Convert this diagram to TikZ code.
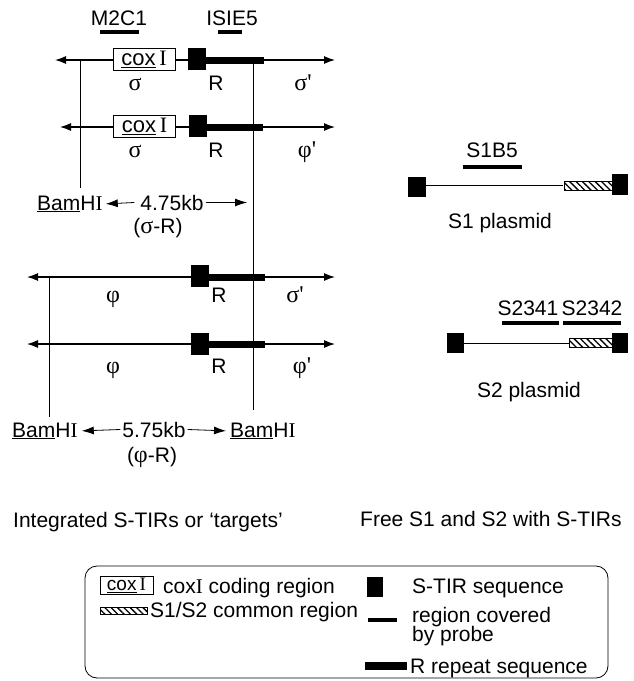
\documentclass[tikz,border=0pt]{standalone}
\usepackage{fontspec}
\setmainfont{Liberation Sans}
\newfontfamily\romI{Liberation Serif}
\usetikzlibrary{arrows.meta,patterns.meta}
\newcommand\coxI{\underline{cox}\,{\romI I}}
\newcommand\bamHI{\underline{Bam}H{\romI I}}
\newcommand\gk[1]{{\romI\fontsize{24}{26}\selectfont #1}}
\begin{document}
\begin{tikzpicture}[x=1pt,y=-1pt,
  lbl/.style={font=\fontsize{21}{24}\selectfont, inner sep=0pt, anchor=base},
  lblw/.style={lbl, anchor=base west},
  dna/.style={line width=1.2pt, {Latex[length=11pt,width=8pt]}-{Latex[length=11pt,width=8pt]}},
  tirsq/.style={fill=black, draw=none, inner sep=0pt, minimum width=18pt, minimum height=22pt},
  rbar/.style={line width=7pt},
  probe/.style={line width=4.5pt},
  vline/.style={line width=0.8pt},
  dim/.style={line width=0.8pt, -{Latex[length=12pt,width=8pt]}},
  coxbox/.style={draw, line width=0.8pt, fill=white, inner sep=0pt,
    minimum width=62pt, minimum height=22pt, font=\fontsize{22}{24}\selectfont},
  hatchbox/.style={draw, line width=0.8pt, fill=white, inner sep=0pt,
    pattern={Lines[angle=-45,distance=4.5pt,line width=1.3pt]}},
  plasmid/.style={line width=0.8pt}
]
\useasboundingbox (0,0) rectangle (633,681);

% ---------- probes above ----------
\node[lbl] (m2c1) at (119,25) {M2C1};
\node[lbl] (isie5) at (232,25) {ISIE5};
\draw[probe] (100,32) -- (139,32);
\draw[probe] (218,32) -- (242,32);

% ---------- row 1 ----------
\coordinate (r1l) at (55,60);
\coordinate (r1r) at (335,60);
\draw[dna] (r1l) -- (r1r);
\draw[rbar] (206,60) -- (264,60);
\node[coxbox] (cox1) at (144,59) {\coxI};
\node[tirsq] (t1) at (197,59) {};
\node[lbl] at (135,90) {\gk{σ}};
\node[lbl] at (216,90) {R};
\node[lbl] at (303,90) {\gk{σ'}};

% ---------- row 2 ----------
\coordinate (r2l) at (60,127);
\coordinate (r2r) at (335,127);
\draw[dna] (r2l) -- (r2r);
\draw[rbar] (207,127) -- (263,127);
\node[coxbox] (cox2) at (144.5,126) {\coxI};
\node[tirsq] (t2) at (198,126) {};
\node[lbl] at (135,157) {\gk{σ}};
\node[lbl] at (216,157) {R};
\node[lbl] at (307,157) {\gk{φ'}};

% ---------- row 3 ----------
\coordinate (r3l) at (27,277);
\coordinate (r3r) at (335,277);
\draw[dna] (r3l) -- (r3r);
\draw[rbar] (208,277) -- (265,277);
\node[tirsq] (t3) at (200,276) {};
\node[lbl] at (113,302) {\gk{φ}};
\node[lbl] at (219,302) {R};
\node[lbl] at (295,302) {\gk{σ'}};

% ---------- row 4 ----------
\coordinate (r4l) at (27,344);
\coordinate (r4r) at (335,344);
\draw[dna] (r4l) -- (r4r);
\draw[rbar] (208,344) -- (265,344);
\node[tirsq] (t4) at (200,344) {};
\node[lbl] at (113,373) {\gk{φ}};
\node[lbl] at (219,373) {R};
\node[lbl] at (302,373) {\gk{φ'}};

% ---------- BamHI sites and distances ----------
\coordinate (vA) at (80,60);
\coordinate (vR) at (253,60);
\coordinate (vB) at (49,277);
\node[lblw] (bamA) at (37,210) {\bamHI};
\node[lbl] (kbA) at (172,210) {4.75kb};
\node[lbl] (srA) at (158,233) {(\gk{σ}-R)};
\draw[vline] (vA) -- (vA |- 0,188);
\draw[vline] (vR) -- (vR |- 0,410);
\draw[vline] (vB) -- (vB |- 0,417);
\draw[dim] ([xshift=-6pt]kbA.west) -- ([xshift=3pt]bamA.east);
\draw[dim] ([xshift=2pt]kbA.east) -- ([xshift=-6pt]kbA.east -| vR);

\node[lblw] (bamB) at (12,437) {\bamHI};
\node[lbl] (kbB) at (154,437) {5.75kb};
\node[lblw] (bamC) at (230,437) {\bamHI};
\node[lbl] (srB) at (152,462) {(\gk{φ}-R)};
\draw[dim] ([xshift=-2pt]kbB.west) -- ([xshift=4pt]bamB.east);
\draw[dim] ([xshift=2pt]kbB.east) -- ([xshift=-4pt]bamC.west);

% ---------- S1 plasmid ----------
\node[lbl] (s1b5) at (492,157) {S1B5};
\draw[probe] (463,167) -- (522,167);
\node[tirsq, minimum height=20pt] (s1L) at (417,187) {};
\node[hatchbox, minimum width=48pt, minimum height=9pt] (s1H) at (588,185.5) {};
\node[tirsq, minimum width=16pt, minimum height=21pt] (s1R) at (620,184.5) {};
\draw[plasmid] (s1L.east |- 0,185) -- (s1H.west |- 0,185);
\node[lbl] at (500,228) {S1 plasmid};

% ---------- S2 plasmid ----------
\node[lbl] (s2341) at (528,315) {S2341};
\node[lbl] (s2342) at (592,315) {S2342};
\draw[probe] (502,323) -- (559,323);
\draw[probe] (563,323) -- (621,323);
\node[tirsq, minimum width=17pt, minimum height=20pt] (s2L) at (455.5,343) {};
\node[hatchbox, minimum width=44pt, minimum height=9pt] (s2H) at (591,342.5) {};
\node[tirsq, minimum width=16pt, minimum height=20pt] (s2R) at (620,343) {};
\draw[plasmid] (s2L.east |- 0,343) -- (s2H.west |- 0,343);
\node[lbl] at (529,397) {S2 plasmid};

% ---------- captions ----------
\node[lblw] (capL) at (13,527) {Integrated S-TIRs or `targets'};
\node[lblw] (capR) at (360,526) {Free S1 and S2 with S-TIRs};

% ---------- legend ----------
\node[draw, line width=0.8pt, rounded corners=12pt, inner sep=0pt,
  minimum width=523pt, minimum height=112pt] (legend) at (346.5,622) {};
\node[coxbox, minimum width=53pt, minimum height=18pt,
  font=\fontsize{19}{22}\selectfont] (lcox) at (126.5,585) {\coxI};
\node[lblw] at (163,593) {cox{\romI I} coding region};
\node[tirsq, minimum width=16pt, minimum height=20pt] (ltir) at (375,587) {};
\node[lblw] at (412,593) {S-TIR sequence};
\node[hatchbox, minimum width=47pt, minimum height=7pt] (lhat) at (123.5,610.5) {};
\node[lblw] at (150,617) {S1/S2 common region};
\draw[probe] (368,620) -- (397,620);
\node[lblw] at (412,622) {region covered};
\node[lblw] at (412,641) {by probe};
\draw[line width=8pt] (365,666) -- (407,666);
\node[lblw] at (410,673) {R repeat sequence};
\end{tikzpicture}
\end{document}
